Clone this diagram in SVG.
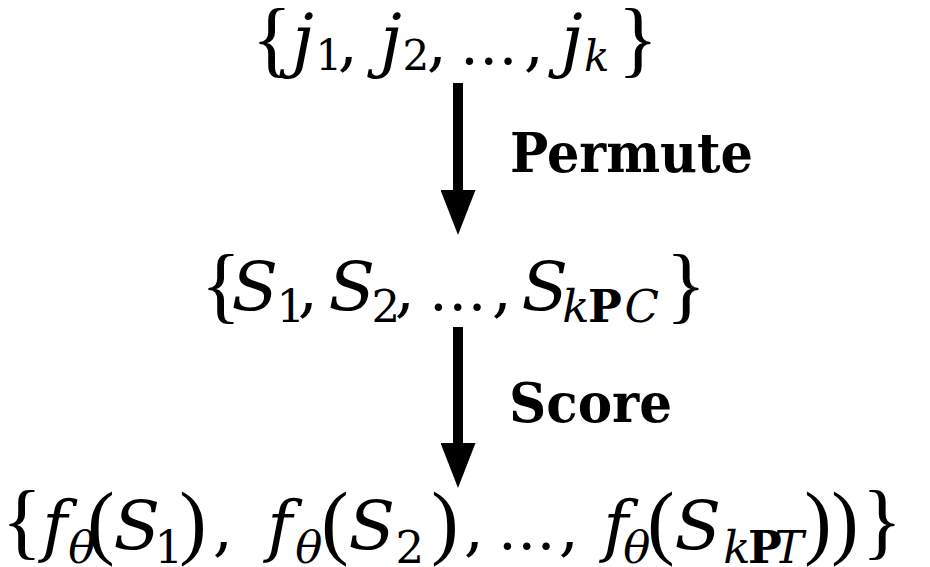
<svg xmlns="http://www.w3.org/2000/svg" width="930" height="567" viewBox="0 0 930 567">
<style>
.math{font-family:"DejaVu Serif","Liberation Serif",serif;font-size:64px;fill:#000;text-anchor:middle}
.it{font-style:italic}
.sub{font-size:42px}
.sub2{font-size:45px}
.bf{font-weight:bold;font-style:normal}
.jj{font-size:70px}
.big{font-size:68px}
.br{font-family:"Liberation Serif",serif;font-size:84px}
.pa{font-family:"Liberation Serif",serif;font-size:82px}
.el{font-size:58px}
.lbl{font-family:"DejaVu Serif","Liberation Serif",serif;font-weight:bold;font-size:54px;fill:#000}
.arrow{stroke:#000;stroke-width:10;fill:none;marker-end:url(#head)}
</style>
<defs>
<marker id="head" viewBox="0 0 45 35" refX="0" refY="17.5" markerWidth="45" markerHeight="35" markerUnits="userSpaceOnUse" orient="auto">
<path d="M0,0 L45,17.5 L0,35 Z" fill="#000"/>
</marker>
</defs>
<rect width="930" height="567" fill="#fff"/>
<g id="connectors">
<line class="arrow" x1="458" y1="83" x2="458" y2="190"/>
<line class="arrow" x1="458" y1="327" x2="458" y2="443"/>
</g>
<g id="label-permute"><text class="lbl" x="510" y="172" textLength="243" lengthAdjust="spacingAndGlyphs">Permute</text></g>
<g id="label-score"><text class="lbl" x="509" y="422" textLength="163" lengthAdjust="spacingAndGlyphs">Score</text></g>
<g id="node-j">
<text class="math">
<tspan class="br" x="282" y="67">{</tspan>
<tspan class="it jj" x="313" y="64">j</tspan>
<tspan class="sub" x="339" y="70">1</tspan>
<tspan x="358" y="64">,</tspan>
<tspan class="it jj" x="401" y="64">j</tspan>
<tspan class="sub" x="426" y="70">2</tspan>
<tspan x="447" y="64">,</tspan>
<tspan class="el" x="499" y="64">…</tspan>
<tspan x="544" y="64">,</tspan>
<tspan class="it jj" x="582" y="64">j</tspan>
<tspan class="sub it" x="607" y="71">k</tspan>
<tspan class="br" x="638" y="67">}</tspan>
</text>
</g>
<g id="node-s">
<text class="math">
<tspan class="br" x="231" y="313">{</tspan>
<tspan class="it big" x="265" y="310">S</tspan>
<tspan class="sub2" x="301" y="322">1</tspan>
<tspan x="318" y="310">,</tspan>
<tspan class="it big" x="362" y="310">S</tspan>
<tspan class="sub2" x="396" y="322">2</tspan>
<tspan x="415" y="310">,</tspan>
<tspan class="el" x="468" y="310">…</tspan>
<tspan x="512" y="310">,</tspan>
<tspan class="it big" x="555" y="310">S</tspan>
<tspan class="sub2 it" x="586" y="322">k</tspan>
<tspan class="sub2 bf" x="615" y="322">P</tspan>
<tspan class="sub2 it" x="652" y="322">C</tspan>
<tspan class="br" x="686" y="313">}</tspan>
</text>
</g>
<g id="node-f">
<text class="math">
<tspan class="br" x="32" y="549">{</tspan>
<tspan class="it big" x="65" y="549">f</tspan>
<tspan class="sub2 it" x="92" y="563">θ</tspan>
<tspan class="pa" x="111" y="549">(</tspan>
<tspan class="it big" x="147" y="549">S</tspan>
<tspan class="sub2" x="179" y="563">1</tspan>
<tspan class="pa" x="203" y="549">)</tspan>
<tspan x="233" y="549">,</tspan>
<tspan class="it big" x="290" y="549">f</tspan>
<tspan class="sub2 it" x="319" y="563">θ</tspan>
<tspan class="pa" x="345" y="549">(</tspan>
<tspan class="it big" x="382" y="549">S</tspan>
<tspan class="sub2" x="420" y="563">2</tspan>
<tspan class="pa" x="455" y="549">)</tspan>
<tspan x="484" y="549">,</tspan>
<tspan class="el" x="537" y="549">…</tspan>
<tspan x="579" y="549">,</tspan>
<tspan class="it big" x="626" y="549">f</tspan>
<tspan class="sub2 it" x="647" y="563">θ</tspan>
<tspan class="pa" x="671" y="549">(</tspan>
<tspan class="it big" x="708" y="549">S</tspan>
<tspan class="sub2 it" x="747" y="563">k</tspan>
<tspan class="sub2 bf" x="775" y="563">P</tspan>
<tspan class="sub2 it" x="799" y="563">T</tspan>
<tspan class="pa" x="828" y="549">)</tspan>
<tspan class="pa" x="855" y="549">)</tspan>
<tspan class="br" x="882" y="549">}</tspan>
</text>
</g>
</svg>
